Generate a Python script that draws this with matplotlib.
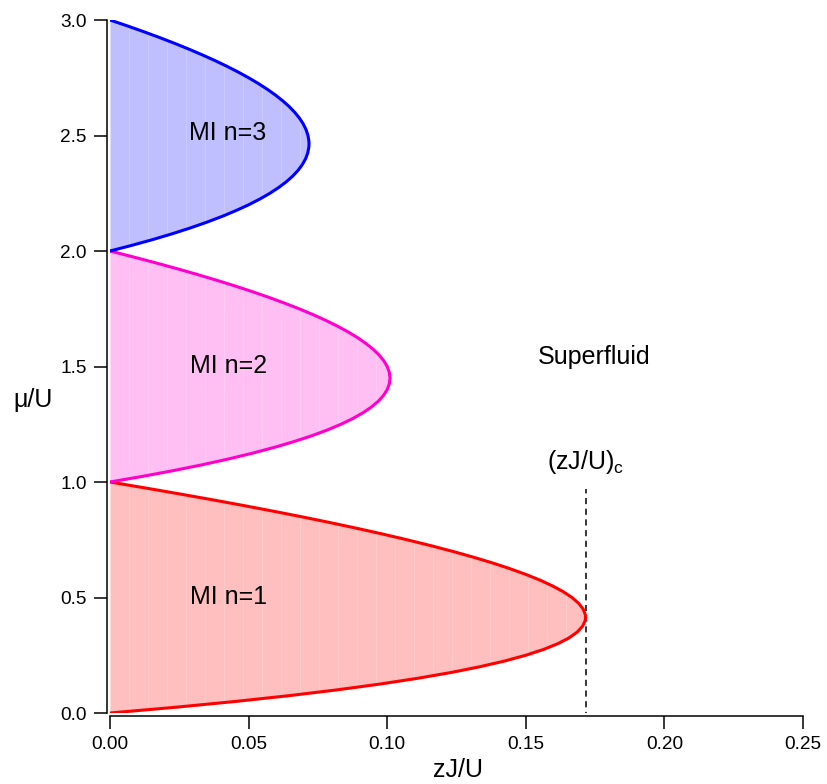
import matplotlib
matplotlib.use("Agg")
import matplotlib.pyplot as plt
from matplotlib.patches import Polygon

plt.rcParams['font.family'] = ['Liberation Sans', 'DejaVu Sans']

# Mott-insulator lobe boundaries: chemical potential mu/U versus hopping zJ/U
mu_n1 = [0.0, 0.025, 0.05, 0.075, 0.1, 0.125, 0.15, 0.175, 0.2, 0.225, 0.25, 0.275, 0.3,
         0.325, 0.35, 0.375, 0.4, 0.4142, 0.425, 0.45, 0.475, 0.5, 0.525, 0.55, 0.575, 0.6,
         0.625, 0.65, 0.675, 0.7, 0.725, 0.75, 0.775, 0.8, 0.825, 0.85, 0.875, 0.9, 0.925,
         0.95, 0.975, 1.0]
zj_n1 = [0.0, 0.02378, 0.04524, 0.06453, 0.08182, 0.09722, 0.11087, 0.12287, 0.13333,
         0.14235, 0.15, 0.15637, 0.16154, 0.16557, 0.16852, 0.17045, 0.17143, 0.17157,
         0.17149, 0.17069, 0.16907, 0.16667, 0.16352, 0.15968, 0.15516, 0.15, 0.14423,
         0.13788, 0.13097, 0.12353, 0.11558, 0.10714, 0.09824, 0.08889, 0.07911, 0.06892,
         0.05833, 0.04737, 0.03604, 0.02436, 0.01234, 0.0]

mu_n2 = [1.0, 1.025, 1.05, 1.075, 1.1, 1.125, 1.15, 1.175, 1.2, 1.225, 1.25, 1.275, 1.3,
         1.325, 1.35, 1.375, 1.4, 1.425, 1.45, 1.475, 1.5, 1.525, 1.55, 1.575, 1.6, 1.625,
         1.65, 1.675, 1.7, 1.725, 1.75, 1.775, 1.8, 1.825, 1.85, 1.875, 1.9, 1.925, 1.95,
         1.975, 2.0]
zj_n2 = [0.0, 0.01204, 0.02317, 0.03343, 0.04286, 0.05147, 0.05930, 0.06638, 0.07273,
         0.07837, 0.08333, 0.08764, 0.09130, 0.09435, 0.09681, 0.09868, 0.1, 0.10077,
         0.10102, 0.10076, 0.1, 0.09876, 0.09706, 0.09490, 0.09231, 0.08929, 0.08585,
         0.08201, 0.07778, 0.07317, 0.06818, 0.06284, 0.05714, 0.05111, 0.04474, 0.03804,
         0.03103, 0.02372, 0.01610, 0.00819, 0.0]

mu_n3 = [2.0, 2.025, 2.05, 2.075, 2.1, 2.125, 2.15, 2.175, 2.2, 2.225, 2.25, 2.275, 2.3,
         2.325, 2.35, 2.375, 2.4, 2.425, 2.45, 2.464, 2.475, 2.5, 2.525, 2.55, 2.575, 2.6,
         2.625, 2.65, 2.675, 2.7, 2.725, 2.75, 2.775, 2.8, 2.825, 2.85, 2.875, 2.9, 2.925,
         2.95, 2.975, 3.0]
zj_n3 = [0.0, 0.00806, 0.01557, 0.02256, 0.02903, 0.035, 0.04048, 0.04547, 0.05, 0.05407,
         0.05769, 0.06088, 0.06364, 0.06598, 0.06791, 0.06944, 0.07059, 0.07135, 0.07174,
         0.07180, 0.07176, 0.07143, 0.07074, 0.06972, 0.06836, 0.06667, 0.06466, 0.06233,
         0.05969, 0.05676, 0.05352, 0.05, 0.04619, 0.04211, 0.03775, 0.03312, 0.02823,
         0.02308, 0.01768, 0.01203, 0.00613, 0.0]

zj_critical = 0.1716
mu_critical_top = 0.97

lobes = [
    (mu_n1, zj_n1, "#ff0000", "#ffbfbf", "MI n=1", 0.502),
    (mu_n2, zj_n2, "#ff00cc", "#ffbff2", "MI n=2", 1.502),
    (mu_n3, zj_n3, "#0000ff", "#bfbfff", "MI n=3", 2.511),
]

fig = plt.figure(figsize=(8.27, 7.84), dpi=100)
ax = fig.add_axes([110 / 827, 1 - 713 / 784, 693 / 827, 693 / 784])

for mu, zj, line_c, fill_c, label, label_mu in lobes:
    ax.fill_betweenx(mu, 0, zj, color=fill_c, linewidth=0, zorder=1)
    # faint vertical banding inside the filled lobe
    poly = Polygon(list(zip(zj, mu)), closed=True, transform=ax.transData,
                   facecolor='none', edgecolor='none')
    ax.add_patch(poly)
    k = 1
    while k * 0.00685 < max(zj):
        ln = ax.axvline(k * 0.00685, color='white', lw=0.7, alpha=0.18, zorder=1.5)
        ln.set_clip_path(poly)
        k += 1
    ax.plot(zj, mu, color=line_c, lw=2.2, zorder=3, solid_joinstyle='round',
            solid_capstyle='butt')
    ax.text(0.0426, label_mu, label, fontsize=18, ha='center', va='center', zorder=4)

ax.plot([zj_critical, zj_critical], [-0.02, mu_critical_top], color='black', lw=1.1,
        ls=(0, (4, 3)), zorder=2)
ax.text(0.1746, 1.541, "Superfluid", fontsize=18, ha='center', va='center')
ax.text(0.1716, 1.085, r"(zJ/U)$_\mathregular{c}$", fontsize=18, ha='center', va='center')

ax.set_xlim(0, 0.25)
ax.set_ylim(0, 3.0)
ax.set_xticks([0.0, 0.05, 0.10, 0.15, 0.20, 0.25])
ax.set_xticklabels(["0.00", "0.05", "0.10", "0.15", "0.20", "0.25"])
ax.set_yticks([0.0, 0.5, 1.0, 1.5, 2.0, 2.5, 3.0])
ax.set_yticklabels(["0.0", "0.5", "1.0", "1.5", "2.0", "2.5", "3.0"])

for s in ['top', 'right']:
    ax.spines[s].set_visible(False)
ax.spines['left'].set_position(('outward', 2.2))
ax.spines['bottom'].set_position(('outward', 2))
for s in ['left', 'bottom']:
    ax.spines[s].set_linewidth(1.1)
ax.tick_params(direction='out', length=9.5, width=1.1, labelsize=13.7, pad=5)

ax.set_xlabel("zJ/U", fontsize=18, va='center')
ax.xaxis.set_label_coords(0.502, -0.082)
ax.set_ylabel("μ/U", fontsize=18, rotation=0, ha='center', va='center')
ax.yaxis.set_label_coords(-0.111, 0.452)

fig.savefig("out.png", dpi=100)
